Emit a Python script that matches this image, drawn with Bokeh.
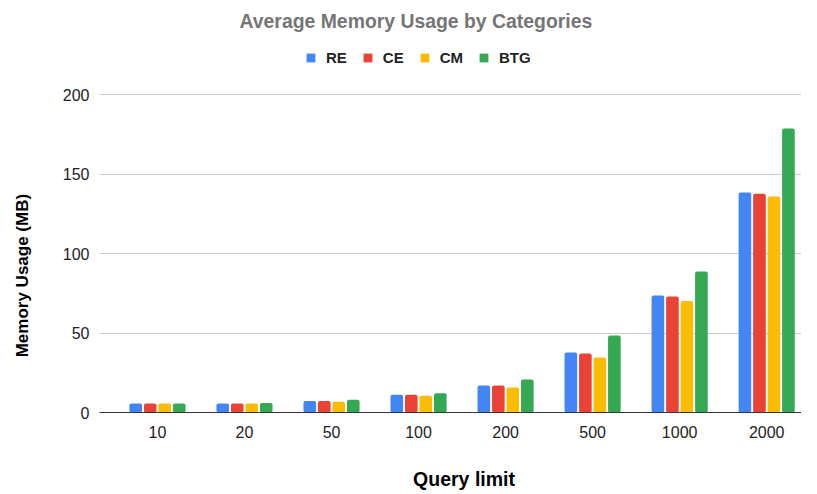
from bokeh.plotting import figure
from bokeh.models import (ColumnDataSource, FixedTicker, Legend, LegendItem,
                          Range1d)
from bokeh.transform import dodge
from bokeh.embed import file_html
from bokeh.resources import INLINE

categories = ["10", "20", "50", "100", "200", "500", "1000", "2000"]
re_vals = [5.6, 5.6, 7.3, 11.1, 17.0, 37.7, 73.6, 138.3]
ce_vals = [5.6, 5.6, 7.3, 11.1, 17.0, 37.1, 73.0, 137.6]
cm_vals = [5.6, 5.6, 6.7, 10.5, 15.8, 34.6, 70.2, 135.8]
btg_vals = [5.6, 6.0, 8.0, 12.1, 20.8, 48.4, 88.7, 178.6]

series = [("RE", re_vals, "#4285F4"), ("CE", ce_vals, "#EA4335"),
          ("CM", cm_vals, "#FBBC04"), ("BTG", btg_vals, "#34A853")]

FONT = "Liberation Sans"
NB = "\u00a0"

src = ColumnDataSource(dict(x=list(range(len(categories))),
                            RE=re_vals, CE=ce_vals, CM=cm_vals, BTG=btg_vals))

p = figure(width=801, height=492, output_backend="svg", toolbar_location=None,
           x_range=Range1d(-0.666, 7.40), y_range=Range1d(0, 234.6),
           min_border_left=99, min_border_right=0, min_border_top=39,
           min_border_bottom=80, title="Average Memory Usage by Categories")
p.outline_line_color = None

offsets = [-0.25, -0.0833, 0.0833, 0.25]
items = []
for (name, vals, color), off in zip(series, offsets):
    r = p.vbar(x=dodge("x", off, range=p.x_range), top=name, width=0.145,
               bottom=0, source=src, fill_color=color, line_color=None,
               border_radius=2)
    items.append(LegendItem(label=name, renderers=[r]))

p.title.align = "left"
p.title.offset = 140
p.title.standoff = 15
p.title.text_font = FONT
p.title.text_font_size = "19.4px"
p.title.text_font_style = "bold"
p.title.text_color = "#757575"

legend = Legend(items=items, orientation="horizontal", location=(206, 346),
                glyph_width=11, glyph_height=11, label_height=18,
                label_standoff=10, spacing=15,
                label_text_font=FONT, label_text_font_size="15px",
                label_text_font_style="bold", label_text_color="#222222",
                border_line_color=None, background_fill_alpha=0,
                padding=0, margin=0)
p.add_layout(legend)

p.xaxis.ticker = FixedTicker(ticks=list(range(len(categories))))
p.xaxis.major_label_overrides = {i: c for i, c in enumerate(categories)}
p.xaxis.axis_label = NB * 5 + "Query limit"
p.xaxis.axis_line_color = "#333333"
p.xaxis.major_tick_line_color = None
p.xaxis.minor_tick_line_color = None
p.xaxis.major_label_standoff = 7
p.xaxis.axis_label_standoff = 27
p.xaxis.axis_label_text_font_size = "19.5px"

p.yaxis.ticker = FixedTicker(ticks=[0, 50, 100, 150, 200])
p.yaxis.axis_label = "Memory Usage (MB)" + NB * 21
p.yaxis.axis_line_color = None
p.yaxis.major_tick_line_color = None
p.yaxis.minor_tick_line_color = None
p.yaxis.major_label_standoff = 4
p.yaxis.axis_label_standoff = 28
p.yaxis.axis_label_text_font_size = "17px"

for ax in (p.xaxis, p.yaxis):
    ax.major_label_text_font = FONT
    ax.major_label_text_font_size = "16px"
    ax.major_label_text_color = "#222222"
    ax.axis_label_text_font = FONT
    ax.axis_label_text_font_style = "bold"
    ax.axis_label_text_color = "#000000"

p.xgrid.grid_line_color = None
p.ygrid.grid_line_color = "#cccccc"

open("out.html", "w").write(file_html(p, INLINE))
